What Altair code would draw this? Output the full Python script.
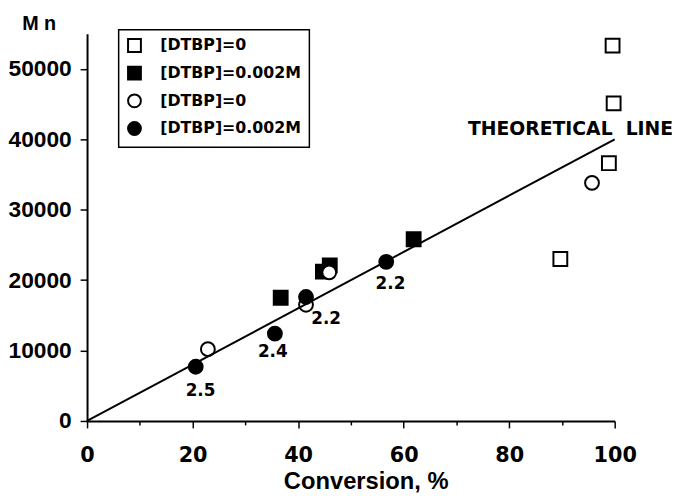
import altair as alt
import pandas as pd

# ---- data ----
series_names = ["[DTBP]=0", "[DTBP]=0.002M", "[DTBP]=0 ", "[DTBP]=0.002M "]
series_shapes = ["square", "square", "circle", "circle"]
series_fills = ["white", "black", "white", "black"]

open_sq_x = [99.6, 99.8, 98.9, 89.7]
open_sq_y = [53300, 45100, 36600, 23000]
filled_sq_x = [36.7, 44.7, 46.0, 61.9]
filled_sq_y = [17500, 21200, 22100, 25800]
open_ci_x = [22.9, 41.5, 45.9, 95.7]
open_ci_y = [10200, 16500, 21100, 33800]
filled_ci_x = [20.6, 35.6, 41.5, 56.7]
filled_ci_y = [7700, 12400, 17600, 22600]

theory_x = [0, 100]
theory_y = [0, 40000]

label_text = ["2.5", "2.4", "2.2", "2.2"]
label_x = [21.5, 35.2, 45.3, 57.5]
label_y = [4300, 9800, 14400, 19400]

theory_label = ["THEORETICAL\u00a0 LINE"]
theory_label_x = [72.2]
theory_label_y = [41400]

x_ticks = list(range(0, 101, 10))
y_ticks = list(range(0, 55001, 5000))

# ---- tables ----
rows = []
for name, xs, ys in [
    (series_names[0], open_sq_x, open_sq_y),
    (series_names[1], filled_sq_x, filled_sq_y),
    (series_names[2], open_ci_x, open_ci_y),
    (series_names[3], filled_ci_x, filled_ci_y),
]:
    for x, y in zip(xs, ys):
        rows.append({"conv": x, "mn": y, "series": name})
pts = pd.DataFrame(rows)
pts["order"] = range(len(pts))

line_df = pd.DataFrame({"conv": theory_x, "mn": theory_y})
lab_df = pd.DataFrame({"conv": label_x, "mn": label_y, "t": label_text})
tl_df = pd.DataFrame({"conv": theory_label_x, "mn": theory_label_y, "t": theory_label})

xscale = alt.Scale(domain=[0, 100], nice=False, zero=True)
yscale = alt.Scale(domain=[0, 55000], nice=False, zero=True)

x_axis = alt.Axis(
    values=x_ticks,
    labelExpr="datum.value % 20 == 0 ? datum.label : ''",
    title="Conversion, %",
    grid=False,
    domainColor="black",
    domainWidth=2,
    tickColor="black",
    tickWidth=1.5,
    tickSize={"condition": {"test": "datum.value % 20 == 0", "value": 7}, "value": 4},
    labelFont="DejaVu Sans",
    labelFontWeight="bold",
    labelFontSize=21,
    labelColor="black",
    labelPadding=17,
    labelFlush=False,
    labelOverlap=False,
    titleFont="Liberation Sans",
    titleFontWeight="bold",
    titleFontSize=24,
    titleColor="black",
    titleX=282,
    titleY=68,
    titleBaseline="alphabetic",
    titleAnchor="start",
    titleAlign="center",
)

y_axis = alt.Axis(
    values=y_ticks,
    labelExpr="datum.value % 10000 == 0 ? datum.value : ''",
    title="M n",
    grid=False,
    domainColor="black",
    domainWidth=2,
    tickColor="black",
    tickWidth=1.5,
    tickSize={"condition": {"test": "datum.value % 10000 == 0", "value": 7}, "value": 4},
    labelFont="Liberation Sans",
    labelFontWeight="bold",
    labelFontSize=23,
    labelColor="black",
    labelPadding=9,
    labelFlush=False,
    labelOverlap=False,
    titleFont="Liberation Sans",
    titleFontWeight="bold",
    titleFontSize=20,
    titleColor="black",
    titleAngle=0,
    titleX=-49,
    titleY=-10,
    titleAlign="center",
    titleBaseline="middle",
)

points = alt.Chart(pts).mark_point(filled=False, strokeWidth=2, size=196, opacity=1).encode(
    x=alt.X("conv:Q", scale=xscale, axis=x_axis),
    y=alt.Y("mn:Q", scale=yscale, axis=y_axis),
    shape=alt.Shape(
        "series:N",
        scale=alt.Scale(domain=series_names, range=series_shapes),
        legend=alt.Legend(
            title=None,
            orient="none",
            legendX=32,
            legendY=-4,
            strokeColor="black",
            padding=8,
            labelFont="DejaVu Sans",
            labelFontWeight="bold",
            labelFontSize=16,
            labelColor="black",
            labelOffset=18,
            labelExpr="datum.label + '\u00a0\u00a0\u00a0\u00a0'",
            rowPadding=6,
            symbolSize=169,
            symbolStrokeWidth=2,
        ),
    ),
    fill=alt.Fill(
        "series:N",
        scale=alt.Scale(domain=series_names, range=series_fills),
    ),
    stroke=alt.Stroke(
        "series:N",
        scale=alt.Scale(domain=series_names, range=["black", "black", "black", "black"]),
    ),
    order=alt.Order("order:Q"),
)

line = alt.Chart(line_df).mark_line(color="black", strokeWidth=2).encode(
    x=alt.X("conv:Q", scale=xscale),
    y=alt.Y("mn:Q", scale=yscale),
)

labels = alt.Chart(lab_df).mark_text(
    font="DejaVu Sans", fontWeight="bold", fontSize=17, color="black",
    align="center", baseline="middle",
).encode(
    x=alt.X("conv:Q", scale=xscale),
    y=alt.Y("mn:Q", scale=yscale),
    text="t:N",
)

tl = alt.Chart(tl_df).mark_text(
    font="DejaVu Sans", fontWeight="bold", fontSize=19, color="black",
    align="left", baseline="middle",
).encode(
    x=alt.X("conv:Q", scale=xscale),
    y=alt.Y("mn:Q", scale=yscale),
    text="t:N",
)

chart = alt.layer(points, line, labels, tl).properties(
    width=534,
    height=392,
    autosize=alt.AutoSizeParams(type="none"),
    padding={"left": 80, "top": 23, "right": 58, "bottom": 73},
).configure_view(stroke=None).configure_legend(strokeWidth=1.5)

chart.save("out.html", embed_options={"renderer": "svg", "actions": False})
